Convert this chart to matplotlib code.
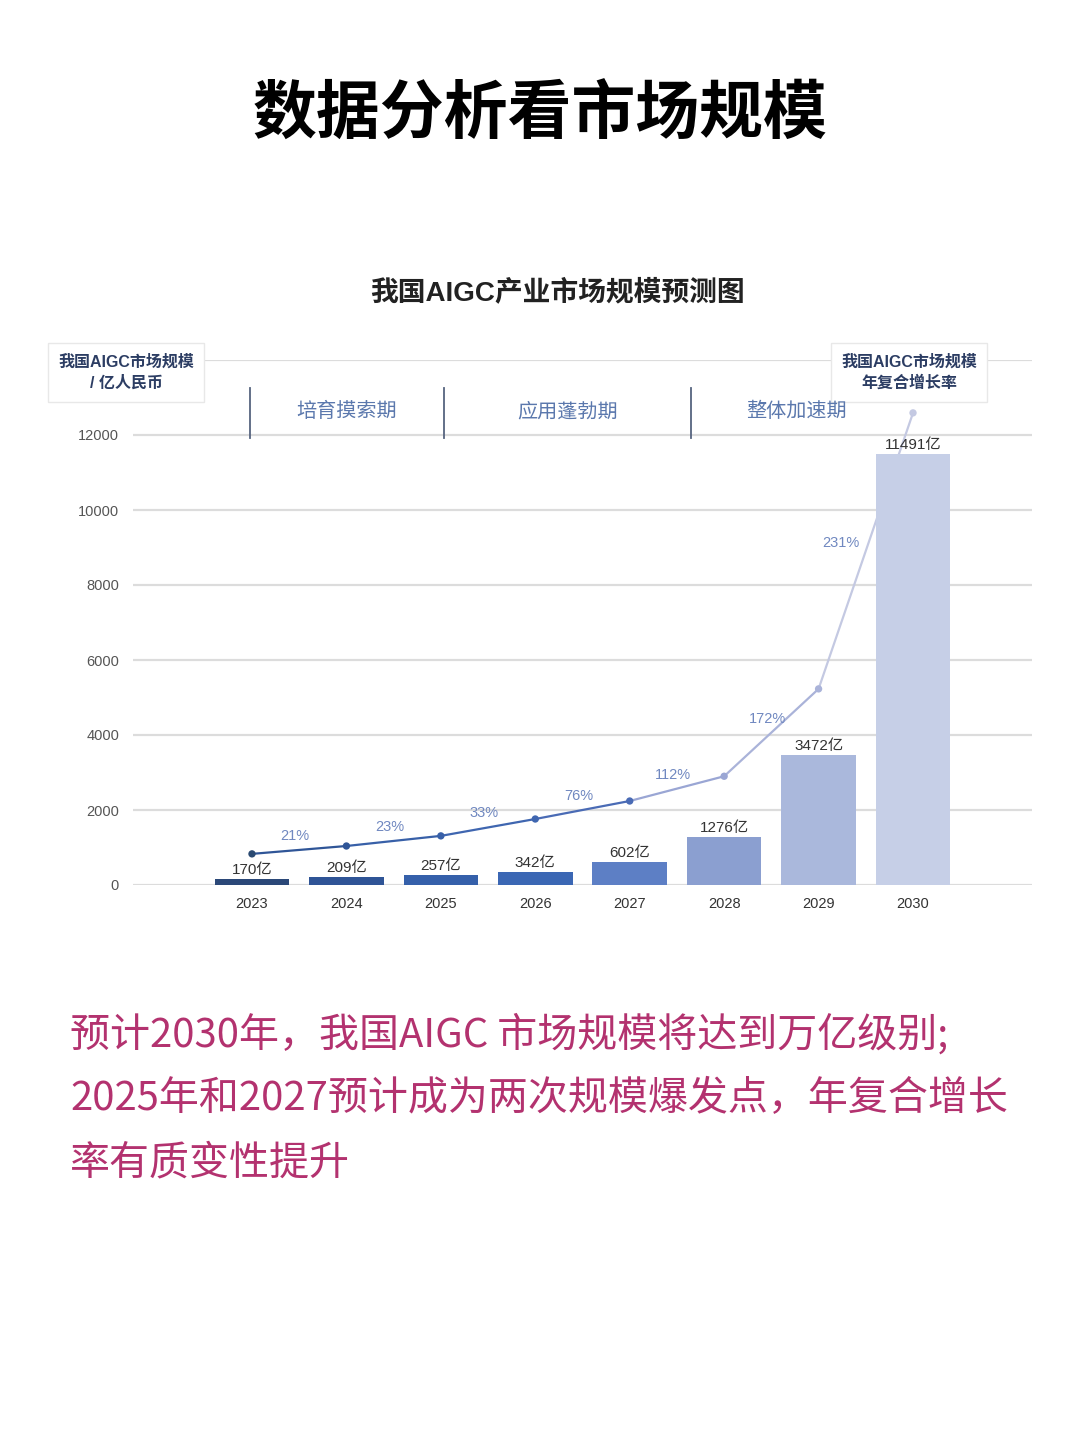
import matplotlib
matplotlib.use("Agg")
import matplotlib.pyplot as plt
from matplotlib.patches import Rectangle

plt.rcParams['font.family'] = ['Noto Sans CJK SC', 'DejaVu Sans']
MIXED = ['Liberation Sans', 'Noto Sans CJK SC']   # latin glyphs wider, like the original

# chart data
years = ['2023', '2024', '2025', '2026', '2027', '2028', '2029', '2030']
market_size = [170, 209, 257, 342, 602, 1276, 3472, 11491]   # 亿人民币
bar_labels = ['170亿', '209亿', '257亿', '342亿', '602亿', '1276亿', '3472亿', '11491亿']
growth_curve = [830, 1040, 1310, 1760, 2240, 2900, 5230, 12590]  # drawn in left-axis units
growth_labels = ['21%', '23%', '33%', '76%', '112%', '172%', '231%']
phases = ['培育摸索期', '应用蓬勃期', '整体加速期']
phase_centers = [1.0, 3.34, 5.77]
phase_bounds = [-0.02, 2.03, 4.65]
yticks = [0, 2000, 4000, 6000, 8000, 10000, 12000]

bar_colors = ['#2b4878', '#2f5496', '#3560aa', '#3b67b4', '#5d7fc5',
              '#8b9fd0', '#aab8dc', '#c6cfe7']
dot_colors = ['#2b4a72', '#2f5597', '#3860a8', '#3f66b0', '#4a6bb5',
              '#9aa6d4', '#aab3d9', '#c4c9e2']

fig = plt.figure(figsize=(10.8, 14.43), dpi=100)

# page title
fig.text(0.5, 1 - 115 / 1443, '数据分析看市场规模', ha='center', va='center',
         fontsize=46, fontweight='bold', color='#000000')
fig.text(0.516, 1 - 293 / 1443, '我国AIGC产业市场规模预测图', ha='center', va='center',
         fontsize=20, fontweight='bold', color='#222222', family=MIXED)

ax = fig.add_axes([133 / 1080, 1 - 885 / 1443, (1032 - 133) / 1080, (885 - 360) / 1443])
x = list(range(len(years)))

# bars sit above the curve (the last segment disappears behind the 2030 bar)
ax.bar(x, market_size, width=0.79, color=bar_colors, zorder=3)
for xi, v, lab in zip(x, market_size, bar_labels):
    ax.annotate(lab, (xi, v), xytext=(0, 2), textcoords='offset pixels',
                ha='center', va='bottom', fontsize=11, color='#333333', zorder=5,
                family=MIXED)

# growth curve, segment by segment so the colour fades
for i in range(len(x) - 1):
    ax.plot(x[i:i + 2], growth_curve[i:i + 2], color=dot_colors[i + 1],
            lw=1.6, zorder=2, solid_capstyle='round')
ax.scatter(x, growth_curve, s=28, c=dot_colors, zorder=4, linewidths=0)

for i, lab in enumerate(growth_labels):
    mx = (x[i] + x[i + 1]) / 2
    my = (growth_curve[i] + growth_curve[i + 1]) / 2
    off = (-4, 14) if i < len(growth_labels) - 1 else (-25, 8)
    ax.annotate(lab, (mx, my), xytext=off, textcoords='offset pixels',
                ha='center', va='center', fontsize=10.5, color='#7088c0', zorder=5,
                family=MIXED)

# legend-like boxes at the top corners (kept inside the axes so the phase labels stay on top)
def corner_box(x0, x1, y0, y1, text):
    ax.add_artist(Rectangle((x0 / 1080, 1 - y1 / 1443), (x1 - x0) / 1080, (y1 - y0) / 1443,
                            transform=fig.transFigure, facecolor='white', clip_on=False,
                            edgecolor='#e8e8e8', lw=1.0, zorder=6))
    ax.text((x0 + x1) / 2 / 1080, 1 - (y0 + y1) / 2 / 1443, text, ha='center', va='center',
            transform=fig.transFigure, clip_on=False,
            fontsize=11.5, fontweight='bold', color='#2c3d63', linespacing=1.5, zorder=7,
            family=MIXED)

corner_box(48, 204, 343, 402, '我国AIGC市场规模\n/ 亿人民币')
corner_box(831, 987, 343, 402, '我国AIGC市场规模\n年复合增长率')

# phase separators and labels
for b in phase_bounds:
    ax.plot([b, b], [11920, 13250], color='#56647f', lw=1.3, zorder=3)
for c, p in zip(phase_centers, phases):
    ax.text(c, 12620, p, ha='center', va='center', fontsize=14.5, color='#5b78ad', zorder=8)

ax.set_xlim(-1.26, 8.26)
ax.set_ylim(0, 14000)
ax.set_yticks(yticks + [14000])
ax.set_yticklabels([str(t) for t in yticks] + [''], family=MIXED)
ax.set_xticks(x)
ax.set_xticklabels(years, family=MIXED)
ax.tick_params(axis='y', length=0, pad=10, labelsize=10.5, labelcolor='#555555')
ax.tick_params(axis='x', length=0, pad=9, labelsize=10.5, labelcolor='#333333')
ax.grid(axis='y', color='#dcdcdc', lw=1.6, zorder=0)
ax.set_axisbelow(True)
for s in ax.spines.values():
    s.set_visible(False)

# commentary text
note_lines = ['预计2030年，我国AIGC 市场规模将达到万亿级别;',
              '2025年和2027预计成为两次规模爆发点，年复合增长',
              '率有质变性提升']
for k, line in enumerate(note_lines):
    fig.text(70 / 1080, 1 - (1035 + 64 * k) / 1443, line, ha='left', va='center',
             fontsize=28.8, color='#b3326f')

fig.savefig('out.png', dpi=100, facecolor='white')
